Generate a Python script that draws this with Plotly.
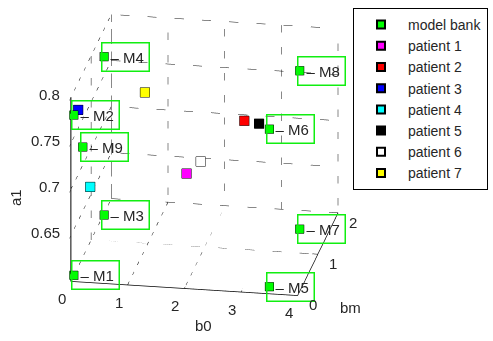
import plotly.graph_objects as go

# Model bank (b0, bm, a1) and labels
model_names = ["M1", "M2", "M3", "M4", "M5", "M6", "M7", "M8", "M9"]
model_b0 = [0.05, 0.05, 0.05, 0.05, 3.5, 3.5, 3.5, 3.5, 0.1]
model_bm = [0.0, 0.0, 1.5, 1.5, 0.0, 0.0, 1.5, 1.5, 0.3]
model_a1 = [0.607, 0.781, 0.605, 0.777, 0.608, 0.779, 0.603, 0.775, 0.733]

# Identified patient parameters
patient_names = ["patient 1", "patient 2", "patient 3", "patient 4",
                 "patient 5", "patient 6", "patient 7"]
patient_colors = ["#ff00ff", "#ff0000", "#0000ff", "#00ffff",
                  "#000000", "#ffffff", "#ffff00"]
patient_b0 = [1.86, 2.70, 0.02, 0.16, 2.96, 2.11, 0.77]
patient_bm = [0.5, 1.0, 0.3, 0.5, 1.0, 0.5, 1.5]
patient_a1 = [0.702, 0.740, 0.773, 0.681, 0.738, 0.716, 0.741]

# Axis limits and ticks
b0_range = [0, 4]
bm_range = [0, 2]
a1_range = [0.6, 0.8]
b0_ticks = [0, 1, 2, 3, 4]
bm_ticks = [0, 1, 2]
a1_ticks = [0.65, 0.7, 0.75, 0.8]
b0_ticklabels = ["0", "1", "2", "3", "4"]
bm_ticklabels = ["0", "1", "2"]
a1_ticklabels = ["0.65", "0.7", "0.75", "0.8"]

FONT = "Arial, Liberation Sans, sans-serif"
TXT = "#262626"
MS = 4.5

fig = go.Figure()

zlo, zhi = a1_range
xlo, xhi = b0_range
ylo, yhi = bm_range

def add_segments(pairs, **line):
    xs, ys, zs = [], [], []
    for p, q in pairs:
        xs += [p[0], q[0], None]; ys += [p[1], q[1], None]; zs += [p[2], q[2], None]
    fig.add_trace(go.Scatter3d(x=xs, y=ys, z=zs, mode="lines", line=line,
                               hoverinfo="skip", showlegend=False))

# Dotted grid on the three back walls
grid = []
for t in b0_ticks:
    grid.append(((t, yhi, zlo), (t, yhi, zhi)))
    grid.append(((t, ylo, zlo), (t, yhi, zlo)))
for t in bm_ticks:
    grid.append(((xlo, t, zlo), (xlo, t, zhi)))
    grid.append(((xlo, t, zlo), (xhi, t, zlo)))
for t in a1_ticks:
    grid.append(((xlo, ylo, t), (xlo, yhi, t)))
    grid.append(((xlo, yhi, t), (xhi, yhi, t)))
add_segments(grid, color="#111111", width=1, dash="dot")

# Short tick marks on the floor for b0 and bm
tick_marks = []
for t in b0_ticks[1:-1]:
    tick_marks.append(((t, ylo, zlo), (t, ylo + 0.09, zlo)))
for t in bm_ticks[1:]:
    tick_marks.append(((xhi, t, zlo), (xhi - 0.1, t, zlo)))
add_segments(tick_marks, color="black", width=1)

fig.add_trace(go.Scatter3d(
    x=model_b0, y=model_bm, z=model_a1, mode="markers", name="model bank",
    legendgroup="model bank", showlegend=False,
    marker=dict(symbol="square", size=MS, color="#00ff00",
                line=dict(color="black", width=3))))

for n, c, x, y, z in zip(patient_names, patient_colors, patient_b0, patient_bm, patient_a1):
    fig.add_trace(go.Scatter3d(
        x=[x], y=[y], z=[z], mode="markers", name=n, legendgroup=n, showlegend=False,
        marker=dict(symbol="square", size=MS + 0.5, color=c,
                    line=dict(color="black", width=3))))

# Legend entries (2-D proxies sharing the legend groups)
for n, c in zip(["model bank"] + patient_names, ["#00ff00"] + patient_colors):
    fig.add_trace(go.Scatter(x=[None], y=[None], mode="markers", name=n, legendgroup=n,
                             marker=dict(symbol="square", size=8, color=c,
                                         line=dict(color="black", width=2))))

tick_font = dict(family=FONT, size=15, color=TXT)

# Model labels in green frames
annotations = [dict(x=x, y=y, z=z, text="\u2009\u2013 " + n, showarrow=False,
                    xanchor="left", yanchor="middle", xshift=-3,
                    font=dict(family=FONT, size=15, color=TXT),
                    bordercolor="#11ee11", borderwidth=1.5, borderpad=5)
               for n, x, y, z in zip(model_names, model_b0, model_bm, model_a1)]
# Tick labels anchored at the tick positions
annotations += [dict(x=t, y=ylo, z=zlo, text=s, showarrow=False, xanchor="center",
                     yanchor="middle", xshift=-9, yshift=-17, font=tick_font)
                for t, s in zip(b0_ticks, b0_ticklabels)]
annotations += [dict(x=xhi, y=t, z=zlo, text=s, showarrow=False, xanchor="center",
                     yanchor="middle", xshift=15, yshift=-9, font=tick_font)
                for t, s in zip(bm_ticks, bm_ticklabels)]
annotations += [dict(x=xlo, y=ylo, z=t, text=s, showarrow=False, xanchor="right",
                     yanchor="middle", xshift=-9, yshift=3, font=tick_font)
                for t, s in zip(a1_ticks, a1_ticklabels)]

axis_common = dict(showgrid=False, showbackground=False, zeroline=False,
                   showline=True, linecolor="black", linewidth=1.5,
                   ticks="", showticklabels=False,
                   showspikes=False, title=dict(text=""))

# Axis titles placed beside the 3-D axes
titles = [
    dict(text="b0", x=203 / 493, y=1 - 325 / 341, textangle=0),
    dict(text="bm", x=350 / 493, y=1 - 307 / 341, textangle=0),
    dict(text="a1", x=15 / 493, y=1 - 198 / 341, textangle=-90),
]
layout_ann = [dict(text=t["text"], x=t["x"], y=t["y"], xref="paper", yref="paper",
                   xanchor="center", yanchor="middle",
                   showarrow=False, textangle=t["textangle"],
                   font=dict(family=FONT, size=15, color=TXT))
              for t in titles]

S = 1.485
fig.update_layout(
    width=493, height=341,
    margin=dict(l=0, r=0, t=0, b=0),
    paper_bgcolor="white",
    plot_bgcolor="rgba(0,0,0,0)",
    font=dict(family=FONT, size=15, color=TXT),
    xaxis=dict(visible=False),
    yaxis=dict(visible=False),
    scene=dict(
        domain=dict(x=[0.0, 0.83], y=[0.09, 1.0]),
        xaxis=dict(range=b0_range, tickvals=b0_ticks, **axis_common),
        yaxis=dict(range=bm_range, tickvals=bm_ticks, **axis_common),
        zaxis=dict(range=a1_range, tickvals=a1_ticks,
                   **{**axis_common, "ticks": "outside", "ticklen": 5,
                      "tickcolor": "black", "linewidth": 2}),
        aspectmode="manual",
        aspectratio=dict(x=1.0 * S, y=1.02 * S, z=0.857 * S),
        camera=dict(projection=dict(type="orthographic"),
                    eye=dict(x=0.1607 * 2, y=-0.920 * 2, z=0.358 * 2),
                    up=dict(x=0, y=0, z=1),
                    center=dict(x=0, y=0, z=0)),
        annotations=annotations,
    ),
    annotations=layout_ann,
    legend=dict(x=353 / 493, y=1 - 8 / 341, xanchor="left", yanchor="top",
                bgcolor="white", bordercolor="black", borderwidth=1,
                font=dict(family=FONT, size=14, color=TXT),
                itemwidth=44, tracegroupgap=0),
)

fig.write_html("out.html")
